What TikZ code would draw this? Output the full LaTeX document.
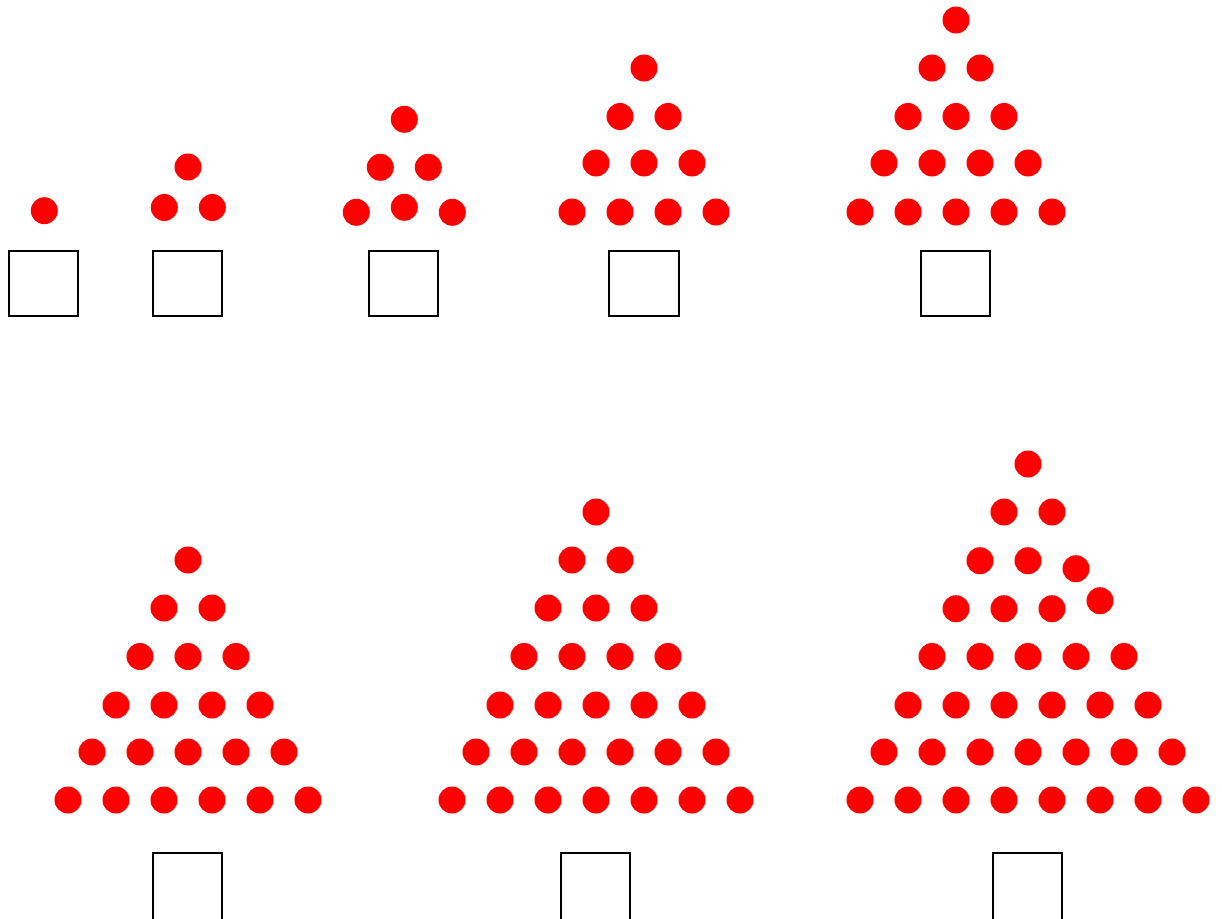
\documentclass[tikz,border=0pt]{standalone}
\definecolor{dotred}{RGB}{255,0,0}
\begin{document}
\begin{tikzpicture}[x=1pt,y=-1pt,
  dot/.style={circle,fill=dotred,inner sep=0pt,minimum size=27pt},
  box/.style={draw=black,line width=2.4pt,inner sep=0pt,minimum width=68.6pt,minimum height=64.6pt}]
\useasboundingbox (0,0) rectangle (1222,918);
\clip (0,0) rectangle (1222,918);
% triangle 1
\node[dot] (t1-1-1) at (44.3,210.7) {};
\node[box] (b1) at (43.5,283.5) {};
% triangle 2
\node[dot] (t2-1-1) at (188,167) {};
\node[dot] (t2-2-1) at (164.3,207.5) {};
\node[dot] (t2-2-2) at (212.3,207.5) {};
\node[box] (b2) at (187.5,283.5) {};
% triangle 3
\node[dot] (t3-1-1) at (404.3,119.3) {};
\node[dot] (t3-2-1) at (380.3,167.3) {};
\node[dot] (t3-2-2) at (428.3,167.3) {};
\node[dot] (t3-3-1) at (356.3,212.3) {};
\node[dot] (t3-3-2) at (404.3,207.3) {};
\node[dot] (t3-3-3) at (452.3,212.3) {};
\node[box] (b3) at (403.5,283.5) {};
% triangle 4
\foreach \y [count=\i] in {68,116.5,163,212}
  \foreach \j in {1,...,\i}
    \node[dot] (t4-\i-\j) at ({644+(\j-(\i+1)/2)*48},\y) {};
\node[box,minimum width=69.6pt] (b4) at (644,283.5) {};
% triangle 5
\foreach \y [count=\i] in {20,68,116.5,163,212}
  \foreach \j in {1,...,\i}
    \node[dot] (t5-\i-\j) at ({956+(\j-(\i+1)/2)*48},\y) {};
\node[box] (b5) at (955.5,283.5) {};
% triangle 6
\foreach \y [count=\i] in {560,608,656.5,705,752,800}
  \foreach \j in {1,...,\i}
    \node[dot] (t6-\i-\j) at ({188+(\j-(\i+1)/2)*48},\y) {};
\node[box,minimum height=76pt] (b6) at (187.5,891) {};
% triangle 7
\foreach \y [count=\i] in {512,560,608,656.5,705,752,800}
  \foreach \j in {1,...,\i}
    \node[dot] (t7-\i-\j) at ({596+(\j-(\i+1)/2)*48},\y) {};
\node[box,minimum height=76pt] (b7) at (595.5,891) {};
% triangle 8
\foreach \y [count=\i] in {464,512,560.7,608.7,656.5,705,752,800}
  \foreach \j in {1,...,\i}{
    \pgfmathsetmacro\dy{(\i==3 && \j==3)*8 + (\i==4 && \j==4)*(-8)}
    \node[dot] (t8-\i-\j) at ({1028+(\j-(\i+1)/2)*48},{\y+\dy}) {};
  }
\node[box,minimum height=76pt] (b8) at (1027.5,891) {};
\end{tikzpicture}
\end{document}
